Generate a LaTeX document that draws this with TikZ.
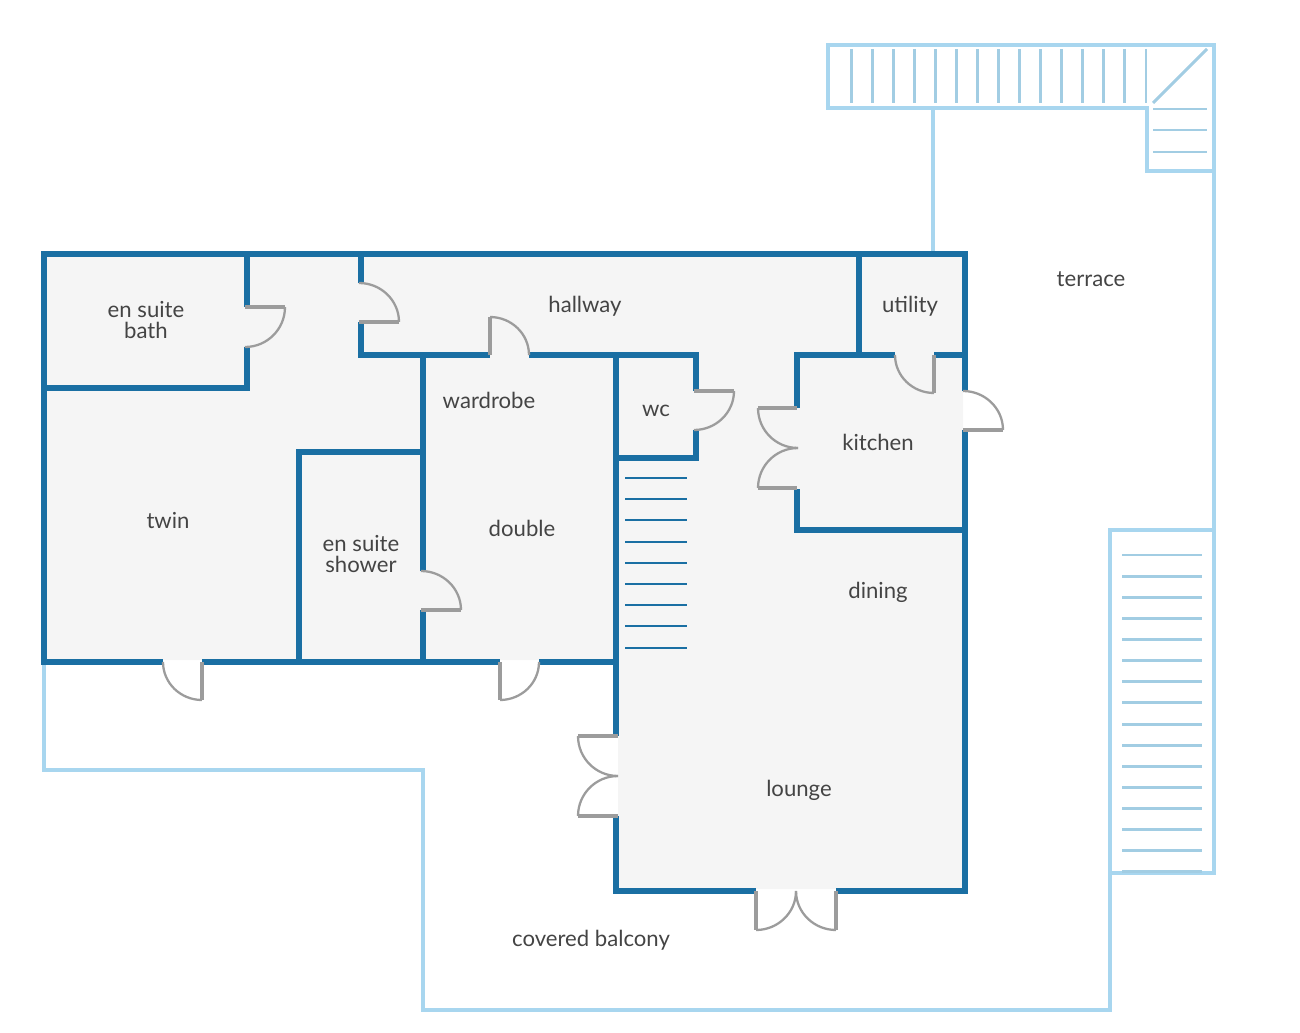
\documentclass[tikz,border=0pt]{standalone}
\usepackage{fontspec}
\setmainfont{Lato}
\usepackage[HTML]{xcolor}
\definecolor{wallblue}{HTML}{1A6FA3}
\definecolor{lightblue}{HTML}{A8D6EF}
\definecolor{treadblue}{HTML}{A2CDE3}
\definecolor{doorgrey}{HTML}{9C9C9C}
\definecolor{floorgrey}{HTML}{F5F5F5}
\definecolor{labelgrey}{HTML}{444444}
\tikzset{
  wall/.style={draw=wallblue, line width=2.9pt},
  tread/.style={draw=wallblue, line width=1.7pt},
  outline/.style={draw=lightblue, line width=1.75pt},
  lighttread/.style={draw=treadblue, line width=1.7pt},
  leaf/.style={draw=doorgrey, line width=2pt},
  swing/.style={draw=doorgrey, line width=1.3pt},
  room/.style={text=labelgrey, align=center, inner sep=0pt, font=\fontsize{12.6}{12}\selectfont}
}
\begin{document}
\begin{tikzpicture}[x=0.02cm, y=-0.02cm]
\useasboundingbox (0,0) rectangle (1300,1033);
% floor
\fill[floorgrey] (46,256) -- (963,256) -- (963,889) -- (618,889) -- (618,660) -- (46,660) -- cycle;

% balcony and terrace
\draw[outline] (44,662) -- (44,770) -- (423,770) -- (423,1010) -- (1110,1010) -- (1110,873);
\draw[outline] (1110,530) rectangle (1214,873);
\draw[outline] (1214,530) -- (1214,45) -- (828,45) -- (828,108) -- (1147,108) -- (1147,171) -- (1214,171);
\draw[outline] (933,108) -- (933,254);

% outside stairs
\foreach \n in {0,...,14} \draw[lighttread] ({851+21.07*\n},49) -- ({851+21.07*\n},103);
\draw[lighttread] (1153,103) -- (1207,49);
\foreach \y in {109,130,152} \draw[lighttread] (1153,\y) -- (1207,\y);
\foreach \n in {0,...,15} \draw[lighttread] (1122,{555+21.13*\n}) -- (1202,{555+21.13*\n});

% inside stairs
\foreach \y in {478,499,520,542,563,584,605,626,648} \draw[tread] (625,\y) -- (687,\y);

% outer walls
\draw[wall] (163,662) -- (44,662) -- (44,254) -- (965,254) -- (965,391);
\draw[wall] (965,430) -- (965,891) -- (836,891);
\draw[wall] (756,891) -- (616,891) -- (616,816);
\draw[wall] (616,736) -- (616,355);
\draw[wall] (202,662) -- (500,662);
\draw[wall] (539,662) -- (616,662);

% inner walls
\draw[wall] (247,254) -- (247,307);
\draw[wall] (247,347) -- (247,388) -- (44,388);
\draw[wall] (361,254) -- (361,283);
\draw[wall] (361,322) -- (361,355) -- (490,355);
\draw[wall] (529,355) -- (696,355) -- (696,391);
\draw[wall] (696,430) -- (696,458) -- (616,458);
\draw[wall] (423,355) -- (423,571);
\draw[wall] (423,610) -- (423,662);
\draw[wall] (423,452) -- (299,452) -- (299,662);
\draw[wall] (797,408) -- (797,355) -- (895,355);
\draw[wall] (934,355) -- (965,355);
\draw[wall] (859,254) -- (859,355);
\draw[wall] (797,489) -- (797,530) -- (965,530);

% doors
\draw[leaf] (245,307) -- (285,307);
\draw[swing] (285,307) to[out=-90, in=0] (245,347);
\draw[leaf] (359,322) -- (399,322);
\draw[swing] (359,283) to[out=0, in=90] (399,322);
\draw[leaf] (490,355) -- (490,317);
\draw[swing] (490,317) to[out=0, in=90] (529,355);
\draw[leaf] (694,391) -- (734,391);
\draw[swing] (734,391) to[out=-90, in=0] (694,430);
\draw[leaf] (934,355) -- (934,393);
\draw[swing] (895,355) to[out=-90, in=180] (934,393);
\draw[leaf] (963,430) -- (1003,430);
\draw[swing] (963,391) to[out=0, in=90] (1003,430);
\draw[leaf] (758,408) -- (797,408);
\draw[swing] (758,408) to[out=-90, in=180] (798,448);
\draw[leaf] (758,488) -- (797,488);
\draw[swing] (758,488) to[out=90, in=180] (798,448);
\draw[leaf] (421,610) -- (461,610);
\draw[swing] (421,571) to[out=0, in=90] (461,610);
\draw[leaf] (202,662) -- (202,700);
\draw[swing] (163,662) to[out=-90, in=180] (202,700);
\draw[leaf] (500,662) -- (500,700);
\draw[swing] (539,662) to[out=-90, in=0] (500,700);
\draw[leaf] (578,736) -- (618,736);
\draw[swing] (578,736) to[out=-90, in=180] (618,776);
\draw[leaf] (578,816) -- (618,816);
\draw[swing] (578,816) to[out=90, in=180] (618,776);
\draw[leaf] (756,891) -- (756,930);
\draw[swing] (756,930) to[out=0, in=-90] (796,891);
\draw[leaf] (836,891) -- (836,930);
\draw[swing] (836,930) to[out=180, in=-90] (796,891);

% labels
\node[room] (bath)     at (146,320) {en suite\\bath};
\node[room] (hallway)  at (585,306) {hallway};
\node[room] (utility)  at (910,306) {utility};
\node[room] (terrace)  at (1091,279) {terrace};
\node[room] (wardrobe) at (489,400) {wardrobe};
\node[room] (wc)       at (656,411) {wc};
\node[room] (kitchen)  at (878,442) {kitchen};
\node[room] (twin)     at (168,521) {twin};
\node[room] (shower)   at (361,554) {en suite\\shower};
\node[room] (double)   at (522,528) {double};
\node[room] (dining)   at (878,592) {dining};
\node[room] (lounge)   at (799,790) {lounge};
\node[room] (balcony)  at (591,940) {covered balcony};
\end{tikzpicture}
\end{document}
